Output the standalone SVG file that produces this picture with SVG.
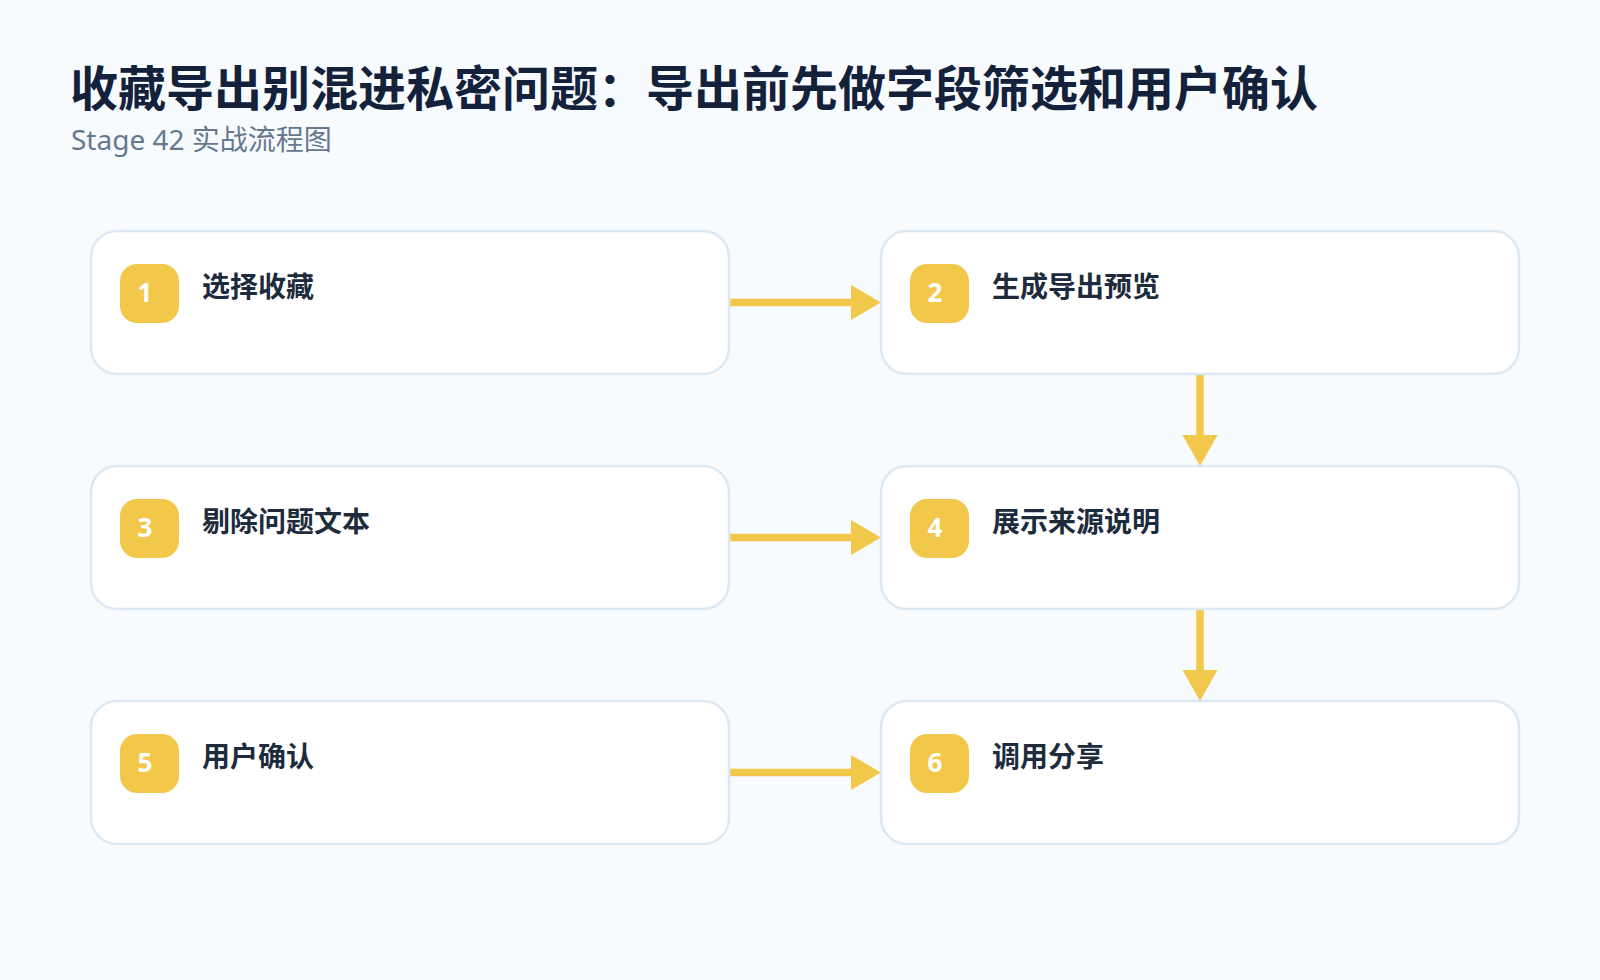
<svg xmlns="http://www.w3.org/2000/svg" width="1600" height="980" viewBox="0 0 1600 980">
<defs>
<style>
.bg{fill:#f7fbfe}
.title{font-family:"Noto Sans CJK SC","Noto Sans",sans-serif;font-weight:700;font-size:48px;fill:#14213a}
.sub{font-family:"Noto Sans","Noto Sans CJK SC",sans-serif;font-size:28px;fill:#66788e}
.card{fill:#ffffff;stroke:#dce8f4;stroke-width:2.5}
.badge{fill:#f2c84b}
.num{font-family:"Noto Sans","Noto Sans CJK SC",sans-serif;font-weight:700;font-size:26px;fill:#ffffff;text-anchor:middle}
.lbl{font-family:"Noto Sans CJK SC","Noto Sans",sans-serif;font-weight:700;font-size:28px;fill:#1d2b3c}
.conn{stroke:#f2c84b;stroke-width:7.5;fill:none}
.head{fill:#f2c84b}
</style>
</defs>
<rect class="bg" x="0" y="0" width="1600" height="980"/>
<text class="title" x="70" y="106">收藏导出别混进私密问题：导出前先做字段筛选和用户确认</text>
<text class="sub" x="71" y="150">Stage 42 实战流程图</text>

<g id="connectors">
<line class="conn" x1="729" y1="302.5" x2="853" y2="302.5"/>
<polygon class="head" points="851,285 881,302.5 851,320"/>
<line class="conn" x1="1200" y1="374" x2="1200" y2="437"/>
<polygon class="head" points="1182.5,435 1217.5,435 1200,466"/>
<line class="conn" x1="729" y1="537.5" x2="853" y2="537.5"/>
<polygon class="head" points="851,520 881,537.5 851,555"/>
<line class="conn" x1="1200" y1="609" x2="1200" y2="672"/>
<polygon class="head" points="1182.5,670 1217.5,670 1200,701"/>
<line class="conn" x1="729" y1="772.5" x2="853" y2="772.5"/>
<polygon class="head" points="851,755 881,772.5 851,790"/>
</g>

<g id="node1">
<rect class="card" x="91" y="231" width="638" height="143" rx="26"/>
<rect class="badge" x="120" y="264" width="59" height="59" rx="17"/>
<text class="num" x="145" y="302">1</text>
<text class="lbl" x="202" y="297">选择收藏</text>
</g>
<g id="node2">
<rect class="card" x="881" y="231" width="638" height="143" rx="26"/>
<rect class="badge" x="910" y="264" width="59" height="59" rx="17"/>
<text class="num" x="935" y="302">2</text>
<text class="lbl" x="992" y="297">生成导出预览</text>
</g>
<g id="node3">
<rect class="card" x="91" y="466" width="638" height="143" rx="26"/>
<rect class="badge" x="120" y="499" width="59" height="59" rx="17"/>
<text class="num" x="145" y="537">3</text>
<text class="lbl" x="202" y="532">剔除问题文本</text>
</g>
<g id="node4">
<rect class="card" x="881" y="466" width="638" height="143" rx="26"/>
<rect class="badge" x="910" y="499" width="59" height="59" rx="17"/>
<text class="num" x="935" y="537">4</text>
<text class="lbl" x="992" y="532">展示来源说明</text>
</g>
<g id="node5">
<rect class="card" x="91" y="701" width="638" height="143" rx="26"/>
<rect class="badge" x="120" y="734" width="59" height="59" rx="17"/>
<text class="num" x="145" y="772">5</text>
<text class="lbl" x="202" y="767">用户确认</text>
</g>
<g id="node6">
<rect class="card" x="881" y="701" width="638" height="143" rx="26"/>
<rect class="badge" x="910" y="734" width="59" height="59" rx="17"/>
<text class="num" x="935" y="772">6</text>
<text class="lbl" x="992" y="767">调用分享</text>
</g>
</svg>
